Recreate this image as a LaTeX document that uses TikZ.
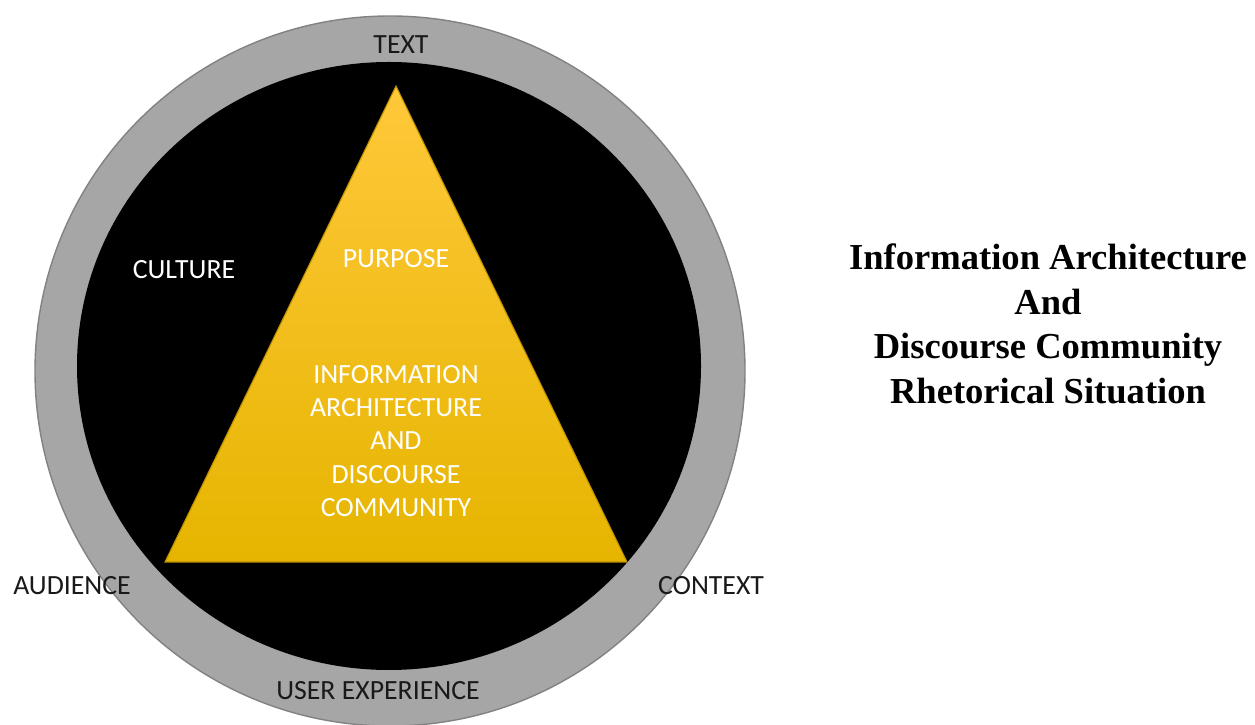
\documentclass[tikz,border=0pt]{standalone}
\usepackage{fontspec}
\setmainfont{Carlito}
\newfontfamily\titlefont{Liberation Serif}
\definecolor{myring}{RGB}{166,166,166}
\definecolor{myringedge}{RGB}{130,130,130}
\definecolor{mygoldtop}{RGB}{255,200,58}
\definecolor{mygoldmid}{RGB}{255,199,0}
\definecolor{mygoldbot}{RGB}{230,181,0}
\definecolor{mygoldedge}{RGB}{190,145,0}
\definecolor{mylabel}{RGB}{25,25,25}

\begin{document}
\begin{tikzpicture}[
    x=0.01cm, y=-0.01cm,
    ringlabel/.style={text=mylabel, font=\fontsize{7.9}{9.5}\selectfont, inner sep=0pt},
    innerlabel/.style={text=white, font=\fontsize{7.9}{9.5}\selectfont, align=center, inner sep=0pt},
    title/.style={font=\titlefont\bfseries\fontsize{10.4}{12.7}\selectfont, align=center, inner sep=0pt}
]
\useasboundingbox (0,0) rectangle (1255,725);

% Outer ring and inner disc
\filldraw[fill=myring, draw=myringedge, line width=0.4pt] (390,371) circle [radius=355];
\fill[black] (389,366) ellipse [x radius=312, y radius=304];

% Triangle
\shadedraw[top color=mygoldtop, middle color=mygoldmid, bottom color=mygoldbot, draw=mygoldedge, line width=0.3pt]
    (396,86) -- (627,562) -- (165,562) -- cycle;

% Ring labels
\node[ringlabel] (text) at (401,45) {TEXT};
\node[ringlabel] (audience) at (72,586) {AUDIENCE};
\node[ringlabel] (context) at (711,586) {CONTEXT};
\node[ringlabel] (ux) at (378,691) {USER EXPERIENCE};

% Inner labels
\node[innerlabel] (culture) at (184,270) {CULTURE};
\node[innerlabel] (purpose) at (396,259) {PURPOSE};
\node[innerlabel] (info) at (396,441) {INFORMATION\\ARCHITECTURE\\AND\\DISCOURSE\\COMMUNITY};

% Title
\node[title] (heading) at (1048,324) {Information Architecture\\And\\Discourse Community\\Rhetorical Situation};

\end{tikzpicture}
\end{document}
